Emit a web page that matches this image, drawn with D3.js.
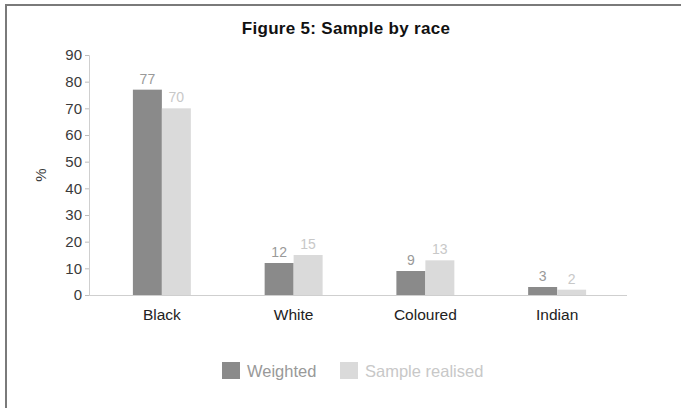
<!DOCTYPE html>
<html>
<head>
<meta charset="utf-8">
<script src="https://cdn.jsdelivr.net/npm/d3@7"></script>
<style>
  html, body { margin: 0; padding: 0; background: #fff; }
  svg { display: block; font-family: "Liberation Sans", Arial, sans-serif; }
</style>
</head>
<body>
<svg id="chart" width="681" height="408"></svg>
<script>
// Survey sample composition by race (%)
const categories = ["Black", "White", "Coloured", "Indian"];
const seriesNames = ["Weighted", "Sample realised"];
const weighted = [77, 12, 9, 3];
const sampleRealised = [70, 15, 13, 2];
const yTicks = [0, 10, 20, 30, 40, 50, 60, 70, 80, 90];

const seriesValues = [weighted, sampleRealised];
const colours = ["#8a8a8a", "#dadada"];
const labelColours = ["#999999", "#c8c8c8"];

const svg = d3.select("#chart");

// outer frame
svg.append("path")
  .attr("d", "M6,408 V5 H681")
  .attr("fill", "none")
  .attr("stroke", "#7a7a7a")
  .attr("stroke-width", 2);

svg.append("text")
  .attr("x", 346).attr("y", 34)
  .attr("text-anchor", "middle")
  .attr("font-size", 17).attr("font-weight", "bold")
  .attr("letter-spacing", 0.3)
  .attr("fill", "#111")
  .text("Figure 5: Sample by race");

const y = d3.scaleLinear().domain([0, 90]).range([295, 55]);
const x0 = d3.scaleBand().domain(categories).range([96, 623])
  .paddingInner(0.56).paddingOuter(0.28);
const x1 = d3.scaleBand().domain(seriesNames).range([0, x0.bandwidth()]);

// y axis
const yAxis = svg.append("g")
  .attr("transform", "translate(89,0)")
  .call(d3.axisLeft(y).tickValues(yTicks).tickSize(4).tickPadding(3));
yAxis.select(".domain").attr("stroke", "#cfcfcf");
yAxis.selectAll(".tick line").attr("stroke", "#bdbdbd");
yAxis.selectAll(".tick text")
  .attr("font-size", 15).attr("fill", "#3a3a3a")
  .attr("font-family", "'Liberation Sans', Arial, sans-serif");

svg.append("text")
  .attr("transform", "translate(46,175) rotate(-90)")
  .attr("text-anchor", "middle")
  .attr("font-size", 15).attr("fill", "#3a3a3a")
  .text("%");

// bars
const groups = svg.append("g").selectAll("g")
  .data(categories)
  .join("g")
  .attr("transform", d => `translate(${x0(d)},0)`);

groups.selectAll("rect")
  .data((d, i) => seriesNames.map((s, j) => ({ s, j, v: seriesValues[j][i] })))
  .join("rect")
  .attr("x", d => x1(d.s))
  .attr("y", d => y(d.v))
  .attr("width", x1.bandwidth())
  .attr("height", d => y(0) - y(d.v))
  .attr("fill", d => colours[d.j]);

groups.selectAll("text.val")
  .data((d, i) => seriesNames.map((s, j) => ({ s, j, v: seriesValues[j][i] })))
  .join("text")
  .attr("class", "val")
  .attr("x", d => x1(d.s) + x1.bandwidth() / 2)
  .attr("y", d => y(d.v) - 6)
  .attr("text-anchor", "middle")
  .attr("font-size", 14)
  .attr("fill", d => labelColours[d.j])
  .text(d => d.v);

// x axis
const xAxis = svg.append("g")
  .attr("transform", `translate(0,${y(0)})`)
  .call(d3.axisBottom(x0).tickSize(0).tickPadding(14));
xAxis.select(".domain").remove();
svg.append("line")
  .attr("x1", 89).attr("x2", 627)
  .attr("y1", y(0) + 0.5).attr("y2", y(0) + 0.5)
  .attr("stroke", "#cfcfcf");
xAxis.selectAll(".tick text")
  .attr("font-size", 15.5).attr("fill", "#222")
  .attr("font-family", "'Liberation Sans', Arial, sans-serif");

// legend
const legendX = [222, 340];
const legend = svg.append("g").selectAll("g")
  .data(seriesNames)
  .join("g")
  .attr("transform", (d, i) => `translate(${legendX[i]},362)`);
legend.append("rect")
  .attr("width", 18).attr("height", 17)
  .attr("fill", (d, i) => colours[i]);
legend.append("text")
  .attr("x", 25).attr("y", 15)
  .attr("font-size", 16.5)
  .attr("fill", (d, i) => labelColours[i])
  .text(d => d);
</script>
</body>
</html>
